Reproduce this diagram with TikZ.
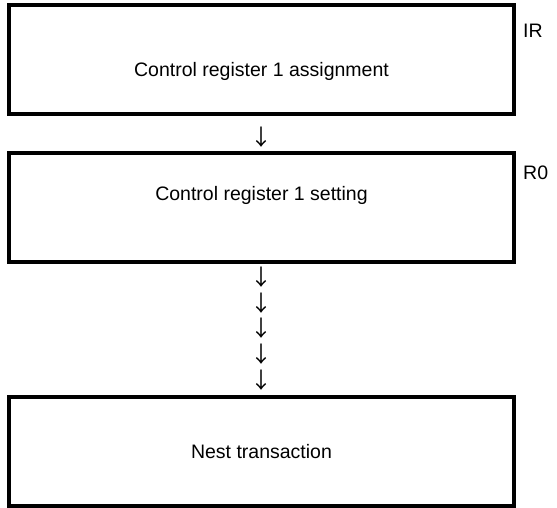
\documentclass[tikz,border=0pt]{standalone}
\usepackage{fontspec}
\setmainfont{Liberation Sans}
\newfontfamily\cjk{Noto Sans CJK SC}
\usetikzlibrary{positioning}
\tikzset{
  stage/.style={draw, line width=4pt, minimum width=505pt, minimum height=109pt,
                inner sep=0pt, font=\fontsize{19.5}{23}\selectfont},
  reg/.style={font=\fontsize{19.5}{23}\selectfont, inner sep=0pt, anchor=west},
  dn/.style={font=\cjk\fontsize{22}{24}\selectfont, inner sep=0pt},
}

\begin{document}
\begin{tikzpicture}[x=1pt,y=-1pt]
  \useasboundingbox (0,0) rectangle (557,507);
  \node[stage] (assign) at (261.5,59.5)
    {\raisebox{-17pt}[0pt][0pt]{Control register 1 assignment}};
  \node[stage,below=35pt of assign] (set)
    {\raisebox{7.5pt}[0pt][0pt]{Control register 1 setting}};
  \node[stage,below=131pt of set] (nest) {Nest transaction};
  \node[reg] (ir) at (523,31) {IR};
  \node[reg] (r0) at (523,173) {R0};
  % arrows printed as glyphs
  \node[dn] (d) at ([yshift=-21pt]assign.south) {↓};
  \foreach \i in {0,...,4}
    \node[dn] (d\i) at ([yshift=-13pt-25.75pt*\i]set.south) {↓};
\end{tikzpicture}
\end{document}
